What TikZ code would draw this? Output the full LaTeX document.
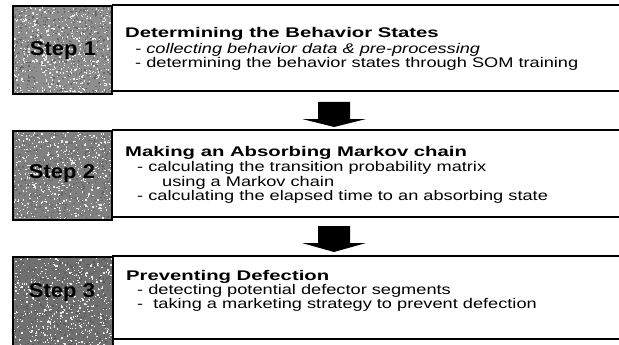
\documentclass[tikz,border=0pt]{standalone}
\usepackage{fontspec}
\setmainfont{Liberation Sans}
\newfontfamily\bodyfont{Liberation Sans}[FakeStretch=1.3]
\newfontfamily\headfont{Liberation Sans}[FakeStretch=1.45]
\newfontfamily\stepfont{Liberation Sans}[FakeStretch=1.1]
\definecolor{stepA}{HTML}{8E8E8E}
\definecolor{stepB}{HTML}{808080}
\definecolor{stepC}{HTML}{707070}
\begin{document}
\begin{tikzpicture}[x=1pt,y=-1pt,
  rule/.style={line width=1.8pt},
  steplabel/.style={font=\stepfont\bfseries\fontsize{20}{20}\selectfont, text=black, inner sep=0},
  headtext/.style={font=\headfont\bfseries\fontsize{14}{14}\selectfont, anchor=base west, inner sep=0},
  itemtext/.style={font=\bodyfont\fontsize{14}{14}\selectfont, anchor=base west, inner sep=0},
  bigarrow/.style={fill=black}]
\useasboundingbox (0,0) rectangle (619,345);
\fill[white] (0,0) rectangle (619,345);
\pgfmathsetseed{4321}

% ---------- Step 1 ----------
\draw[rule] (112,5) -- (619,5);
\draw[rule] (112,91) -- (619,91);
\fill[stepA] (13,6) rectangle (112,94);
\foreach \i in {1,...,500}{
  \pgfmathsetmacro{\px}{14+97*rnd}\pgfmathsetmacro{\py}{7+86*rnd}
  \fill[white!85!gray] (\px,\py) rectangle ++(1.3,1.3);
  \pgfmathsetmacro{\qx}{14+97*rnd}\pgfmathsetmacro{\qy}{7+86*rnd}
  \fill[black!60] (\qx,\qy) rectangle ++(1.3,1.3);
}
\draw[line width=1.8pt] (13,6) rectangle (112,94);
\node[steplabel] (s1) at (63,51) {Step 1};
\node[headtext] (h1) at (125,38) {Determining the Behavior States};
\node[itemtext] (i11) at (135,53.5) {\itshape - collecting behavior data \& pre-processing};
\node[itemtext] (i12) at (135,68) {- determining the behavior states through SOM training};

% ---------- arrow 1 ----------
\coordinate (a1) at (334,102);
\fill[bigarrow] (a1) ++(-16,0) -- ++(32,0) -- ++(0,17) -- ++(16,0) -- (334,127) -- (302,119) -- (318,119) -- cycle;

% ---------- Step 2 ----------
\draw[rule] (112,130) -- (619,130);
\draw[rule] (112,217) -- (619,217);
\fill[stepB] (13,131) rectangle (112,220);
\foreach \i in {1,...,500}{
  \pgfmathsetmacro{\px}{14+97*rnd}\pgfmathsetmacro{\py}{132+86*rnd}
  \fill[white!85!gray] (\px,\py) rectangle ++(1.3,1.3);
  \pgfmathsetmacro{\qx}{14+97*rnd}\pgfmathsetmacro{\qy}{132+86*rnd}
  \fill[black!60] (\qx,\qy) rectangle ++(1.3,1.3);
}
\draw[line width=1.8pt] (13,131) rectangle (112,220);
\node[steplabel] (s2) at (62,174) {Step 2};
\node[headtext] (h2) at (125,157) {Making an Absorbing Markov chain};
\node[itemtext] (i21) at (137,171.5) {- calculating the transition probability matrix};
\node[itemtext] (i22) at (162,186) {using a Markov chain};
\node[itemtext] (i23) at (137,200) {- calculating the elapsed time to an absorbing state};

% ---------- arrow 2 ----------
\coordinate (a2) at (334,226);
\fill[bigarrow] (a2) ++(-16,0) -- ++(32,0) -- ++(0,17) -- ++(16,0) -- (334,252) -- (302,243) -- (318,243) -- cycle;

% ---------- Step 3 ----------
\draw[rule] (112,256) -- (619,256);
\draw[rule] (112,339) -- (619,339);
\fill[stepC] (13,257) rectangle (113,346);
\foreach \i in {1,...,500}{
  \pgfmathsetmacro{\px}{14+98*rnd}\pgfmathsetmacro{\py}{258+87*rnd}
  \fill[white!85!gray] (\px,\py) rectangle ++(1.3,1.3);
  \pgfmathsetmacro{\qx}{14+98*rnd}\pgfmathsetmacro{\qy}{258+87*rnd}
  \fill[black!65] (\qx,\qy) rectangle ++(1.3,1.3);
}
\draw[line width=1.8pt] (13,257) rectangle (113,346);
\node[steplabel] (s3) at (62,293) {Step 3};
\node[headtext] (h3) at (126,280) {Preventing Defection};
\node[itemtext] (i31) at (137,294) {- detecting potential defector segments};
\node[itemtext] (i32) at (137,308) {-\ \ taking a marketing strategy to prevent defection};
\end{tikzpicture}
\end{document}
